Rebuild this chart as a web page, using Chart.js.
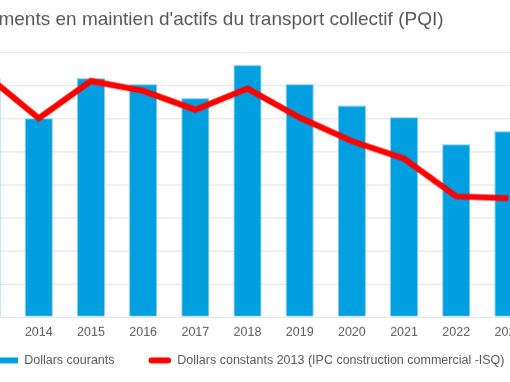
<!DOCTYPE html>
<html lang="fr">
<head>
<meta charset="utf-8">
<title>Investissements en maintien d'actifs du transport collectif (PQI)</title>
<script src="https://cdn.jsdelivr.net/npm/chart.js@4.4.1/dist/chart.umd.min.js"></script>
<style>
    html, body { margin: 0; padding: 0; background: #fff; overflow: hidden; width: 510px; height: 382px; }
    #wrap { position: absolute; top: 0; height: 403.5px; }
</style>
</head>
<body>
<div id="wrap"><canvas id="chart"></canvas></div>
<script>
// --- Data (y labels are cut off in the picture: 100 units per gridline) ---
const years = ['2013', '2014', '2015', '2016', '2017', '2018', '2019', '2020', '2021', '2022', '2023'];
const dollarsCourants = [721, 600, 721, 703, 661, 761, 703, 639, 603, 521, 561];
const dollarsConstants = [730, 600, 713, 683, 626, 690, 602, 531, 478, 364, 358];
const seriesNames = ['Dollars courants', 'Dollars constants 2013 (IPC construction commercial -ISQ)'];
const titleText = "Investissements en maintien d'actifs du transport collectif (PQI)";
const yMax = 800;
const yStep = 100;

// --- Look ---
const FONT = "'Liberation Sans', Arial, sans-serif";
const GREY = '#595959';
const BLUE = '#009FE0';
const RED = '#FF0000';
const TITLE_SIZE = 19;
const LABEL_SIZE = 12.5;

// The picture is a crop of a wider chart: place an oversized chart so the
// visible part lands where it does in the crop (page px).
const PLOT_LEFT = -40, PLOT_RIGHT = 534;
const TITLE_END = 443;
const LEG_TEXT1_END = 114, LEG_BOX2_START = 148, LEG_TEXT2_END = 504, LEG_GAP = 34;
const LEGEND_LIFT = 27.75; // legend padding is the item gap, pull the row back up

const meas = document.createElement('canvas').getContext('2d');
function textWidth(text, size) {
    meas.font = `${size}px ${FONT}`;
    return meas.measureText(text).width;
}

const titleW = textWidth(titleText, TITLE_SIZE);
const t1 = textWidth(seriesNames[0], LABEL_SIZE);
const t2 = textWidth(seriesNames[1], LABEL_SIZE);
const boxW = LEG_TEXT2_END - LEG_BOX2_START - LABEL_SIZE / 2 - t2;
const leg1Start = LEG_TEXT1_END - t1 - LABEL_SIZE / 2 - boxW;
const legLine = (boxW + LABEL_SIZE / 2 + t1 + LEG_GAP) + (boxW + LABEL_SIZE / 2 + t2 + LEG_GAP);

const wrapLeft = TITLE_END - titleW;                 // title aligned 'start'
const wrapWidth = 2 * (leg1Start - wrapLeft) - LEG_GAP + legLine; // legend centred
const leftAxisW = PLOT_LEFT - wrapLeft;
const rightAxisW = wrapLeft + wrapWidth - PLOT_RIGHT;

const wrap = document.getElementById('wrap');
wrap.style.left = wrapLeft + 'px';
wrap.style.width = wrapWidth + 'px';

const liftLegend = {
    id: 'liftLegend',
    afterLayout(chart) {
        chart.legend.top -= LEGEND_LIFT;
        chart.legend.bottom -= LEGEND_LIFT;
    }
};

new Chart(document.getElementById('chart'), {
    type: 'bar',
    data: {
        labels: years,
        datasets: [{
            label: seriesNames[0],
            data: dollarsCourants,
            backgroundColor: BLUE,
            borderColor: '#86CDEF',
            borderWidth: 1,
            barPercentage: 0.54,
            categoryPercentage: 1,
            order: 1
        }, {
            type: 'line',
            label: seriesNames[1],
            data: dollarsConstants,
            borderColor: RED,
            backgroundColor: RED,
            borderWidth: 6,
            pointRadius: 0,
            tension: 0,
            order: 0
        }]
    },
    plugins: [liftLegend],
    options: {
        responsive: true,
        maintainAspectRatio: false,
        animation: false,
        layout: { padding: 0 },
        plugins: {
            title: {
                display: true,
                text: titleText,
                align: 'start',
                color: GREY,
                font: { family: FONT, size: TITLE_SIZE, weight: 'normal' },
                padding: { top: 8.6, bottom: 20.6 }
            },
            legend: {
                position: 'bottom',
                align: 'center',
                labels: {
                    color: GREY,
                    font: { family: FONT, size: LABEL_SIZE },
                    boxWidth: boxW,
                    boxHeight: 6,
                    padding: LEG_GAP,
                    generateLabels(chart) {
                        const items = Chart.defaults.plugins.legend.labels.generateLabels(chart);
                        items.sort((a, b) => a.datasetIndex - b.datasetIndex);
                        items.forEach(item => { item.lineWidth = 0; });
                        items[1].borderRadius = 3;
                        return items;
                    }
                }
            },
            tooltip: { enabled: false }
        },
        scales: {
            x: {
                grid: { display: false, drawTicks: false },
                border: { display: false },
                ticks: { color: GREY, font: { family: FONT, size: LABEL_SIZE }, padding: 8, maxRotation: 0 }
            },
            y: {
                min: 0,
                max: yMax,
                ticks: { display: false, stepSize: yStep },
                grid: { color: '#E3E3E3', lineWidth: 1, drawTicks: false },
                border: { display: false },
                afterFit(scale) { scale.width = leftAxisW; }
            },
            yRight: {
                position: 'right',
                min: 0,
                max: yMax,
                ticks: { display: false },
                grid: { display: false, drawTicks: false },
                border: { display: false },
                afterFit(scale) { scale.width = rightAxisW; }
            }
        }
    }
});
</script>
</body>
</html>
